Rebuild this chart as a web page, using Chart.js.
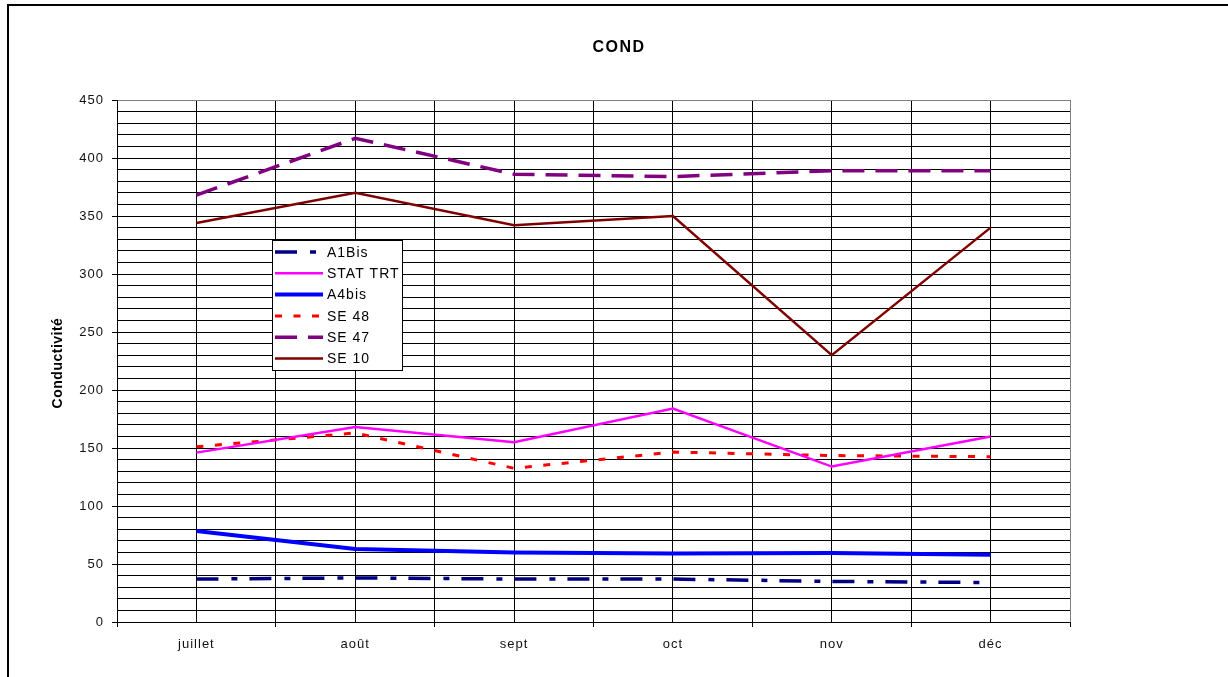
<!DOCTYPE html>
<html>
<head>
<meta charset="utf-8">
<script src="https://cdn.jsdelivr.net/npm/chart.js@4/dist/chart.umd.min.js"></script>
<style>
  html, body { margin: 0; padding: 0; background: #fff; }
  #wrap { width: 1228px; height: 677px; position: relative; }
</style>
</head>
<body>
<div id="wrap"><canvas id="c" width="1228" height="677"></canvas></div>
<script>
// Monthly conductivity readings per sampling station
const months   = ['juillet', 'août', 'sept', 'oct', 'nov', 'déc'];
const a1bis    = [37, 38, 37, 37, 35, 34];
const statTrt  = [146, 168, 155, 184, 134, 160];
const a4bis    = [78.5, 63, 60, 59, 59.5, 58];
const se48     = [151, 163, 132.5, 146.5, 143.5, 142.5];
const se47     = [368, 417, 386, 384, 389, 389];
const se10     = [344, 370, 342, 350, 230, 340];
const seriesNames = ['A1Bis', 'STAT TRT', 'A4bis', 'SE 48', 'SE 47', 'SE 10'];
const chartTitle = 'COND';
const yAxisTitle = 'Conductivité';

const FONT = '"Liberation Sans", Arial, sans-serif';

function toPoints(values) {
  return values.map((v, i) => ({ x: i, y: v }));
}

const styles = [
  { color: '#000080', width: 3.5, dash: [22, 13, 6, 12] },
  { color: '#FF00FF', width: 2.5, dash: [] },
  { color: '#0000FF', width: 4,   dash: [] },
  { color: '#FF0000', width: 3,   dash: [7, 11.5] },
  { color: '#800080', width: 3.5, dash: [22, 11] },
  { color: '#800000', width: 2.5, dash: [] }
];
const seriesValues = [a1bis, statTrt, a4bis, se48, se47, se10];

const datasets = seriesValues.map((vals, k) => ({
  label: seriesNames[k],
  data: toPoints(vals),
  borderColor: styles[k].color,
  backgroundColor: styles[k].color,
  borderWidth: styles[k].width,
  borderDash: styles[k].dash,
  borderCapStyle: 'butt',
  pointRadius: 0,
  tension: 0,
  fill: false
}));

// Frame, titles and boxed legend
const decorations = {
  id: 'decorations',
  beforeDraw(chart) {
    chart.ctx.letterSpacing = '1px';
  },
  afterDraw(chart) {
    const ctx = chart.ctx;
    ctx.save();
    // outer frame
    ctx.strokeStyle = '#000';
    ctx.lineWidth = 2;
    ctx.setLineDash([]);
    ctx.strokeRect(8, 5, 1300, 800);

    // chart title
    ctx.fillStyle = '#000';
    ctx.letterSpacing = '1.5px';
    ctx.font = 'bold 16px ' + FONT;
    ctx.textAlign = 'center';
    ctx.textBaseline = 'middle';
    ctx.fillText(chartTitle, 619, 48);

    // y axis title
    ctx.letterSpacing = '0.5px';
    ctx.save();
    ctx.translate(58, 363);
    ctx.rotate(-Math.PI / 2);
    ctx.font = 'bold 14px ' + FONT;
    ctx.fillText(yAxisTitle, 0, 0);
    ctx.restore();

    // legend box
    const bx = 272.5, by = 240.5, bw = 130, bh = 130;
    ctx.fillStyle = '#fff';
    ctx.fillRect(bx, by, bw, bh);
    ctx.strokeStyle = '#000';
    ctx.lineWidth = 1;
    ctx.strokeRect(bx, by, bw, bh);
    ctx.letterSpacing = '1px';
    ctx.font = '14px ' + FONT;
    ctx.textAlign = 'left';
    ctx.textBaseline = 'middle';
    chart.data.datasets.forEach((ds, k) => {
      const y = 252 + k * 21.3;
      ctx.beginPath();
      ctx.strokeStyle = ds.borderColor;
      ctx.lineWidth = ds.borderWidth;
      ctx.lineCap = 'butt';
      ctx.setLineDash(ds.borderDash);
      ctx.moveTo(275, y);
      ctx.lineTo(323, y);
      ctx.stroke();
      ctx.setLineDash([]);
      ctx.fillStyle = '#000';
      ctx.fillText(ds.label, 327, y + 1);
    });
    ctx.restore();
  }
};

new Chart(document.getElementById('c'), {
  type: 'line',
  data: { datasets },
  options: {
    responsive: false,
    animation: false,
    devicePixelRatio: 1,
    layout: { padding: { left: 40, top: 100, right: 158, bottom: 0 } },
    plugins: {
      legend: { display: false },
      title: { display: false },
      tooltip: { enabled: false }
    },
    scales: {
      x: {
        type: 'linear',
        min: -0.5,
        max: months.length - 0.5,
        afterBuildTicks(scale) {
          const t = [];
          for (let v = -0.5; v <= months.length - 0.5 + 1e-9; v += 0.5) t.push({ value: v });
          scale.ticks = t;
        },
        afterFit(scale) { scale.height = 55; },
        grid: {
          color: ctx => (ctx.tick && ctx.tick.value === months.length - 0.5) ? '#808080' : '#000',
          lineWidth: 1,
          tickLength: 5,
          tickColor: ctx => (ctx.tick && Number.isInteger(ctx.tick.value)) ? 'rgba(0,0,0,0)' : '#000'
        },
        border: { color: '#000', width: 1 },
        ticks: {
          autoSkip: false,
          maxRotation: 0,
          padding: 10,
          color: '#111',
          font: { family: FONT, size: 13 },
          callback: v => Number.isInteger(v) ? months[v] : ''
        }
      },
      y: {
        min: 0,
        max: 450,
        afterFit(scale) { scale.width = 77; },
        grid: {
          color: ctx => (ctx.tick && ctx.tick.value === 450) ? '#808080' : '#000',
          lineWidth: 1,
          tickLength: 5,
          tickColor: ctx => (ctx.tick && ctx.tick.value % 50 === 0) ? '#000' : 'rgba(0,0,0,0)'
        },
        border: { color: '#000', width: 1 },
        ticks: {
          stepSize: 10,
          autoSkip: false,
          padding: 8,
          color: '#111',
          font: { family: FONT, size: 13 },
          callback: v => (v % 50 === 0) ? String(v) : ''
        }
      }
    }
  },
  plugins: [decorations]
});
</script>
</body>
</html>
